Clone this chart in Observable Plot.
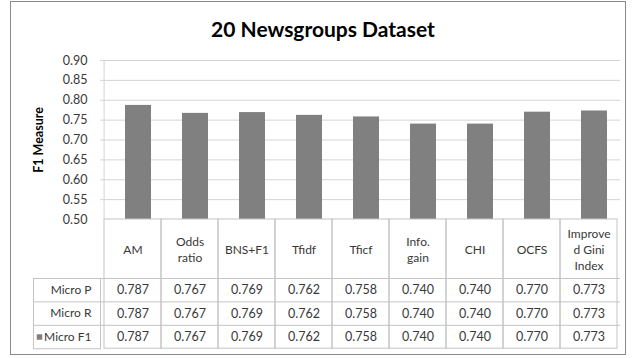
<!DOCTYPE html>
<html><head><meta charset="utf-8">
<script src="https://cdn.jsdelivr.net/npm/d3@7"></script>
<script src="https://cdn.jsdelivr.net/npm/@observablehq/plot@0.6"></script>
<style>body{margin:0;background:#fff;} #chart svg{display:block}</style>
</head><body><div id="chart"></div>
<script>
const title = "20 Newsgroups Dataset";
const yLabel = "F1 Measure";
const categories = ["AM","Odds ratio","BNS+F1","Tfidf","Tficf","Info. gain","CHI","OCFS","Improved Gini Index"];
const headerLabels = ["AM","Odds\nratio","BNS+F1","Tfidf","Tficf","Info.\ngain","CHI","OCFS","Improve\nd Gini\nIndex"];
const rowLabels = ["Micro P","Micro R","Micro F1"];
const microP  = [0.787,0.767,0.769,0.762,0.758,0.740,0.740,0.770,0.773];
const microR  = [0.787,0.767,0.769,0.762,0.758,0.740,0.740,0.770,0.773];
const microF1 = [0.787,0.767,0.769,0.762,0.758,0.740,0.740,0.770,0.773];
const yTicks = [0.50,0.55,0.60,0.65,0.70,0.75,0.80,0.85,0.90];

const W = 635, H = 358, mL = 100, mR = 15, mT = 60, mB = 139;
const frameH = H - mT - mB;
const bw = (W - mL - mR) / categories.length;
const headerH = 59, rowH = 23.4;
const series = [microP, microR, microF1];
const bars = categories.map((c, i) => ({method: c, f1: microF1[i]}));
const font = "Lato, 'Open Sans', sans-serif";
const txt = "#383838";
const lineC = "#c4c4c4";

const marks = [
  Plot.frame({stroke: "#8a8a8a", insetLeft: -90, insetRight: -5, insetTop: -59, insetBottom: -135}),
  Plot.ruleY(yTicks.slice(1), {stroke: "#d4d4d4"}),
  Plot.ruleX([categories[0]], {x: d => d, dx: -bw / 2, stroke: "#d4d4d4"}),
  Plot.barY(bars, {x: "method", y1: yTicks[0], y2: "f1", fill: "#808080", insetLeft: 21, insetRight: 10}),
  Plot.cell(categories, {x: d => d, fill: "none", stroke: lineC, insetTop: frameH, insetBottom: -(headerH + 3 * rowH)}),
  Plot.frame({stroke: lineC, insetLeft: -67, insetRight: W - mL - mR, insetTop: frameH + headerH, insetBottom: -(headerH + 3 * rowH)}),
  ...rowLabels.map((r, i) => Plot.ruleY([yTicks[0]], {stroke: lineC, dy: headerH + i * rowH, insetLeft: -67})),
  Plot.text([title], {text: d => d, frameAnchor: "top", lineAnchor: "middle", dx: -37.5, dy: -30, fontSize: 21, fontWeight: "bold", fill: "#000"}),
  Plot.text([yLabel], {text: d => d, frameAnchor: "left", lineAnchor: "middle", textAnchor: "middle", rotate: -90, dx: -62, fontSize: 12.5, fontWeight: "bold", fill: "#000"}),
  Plot.text(categories, {x: d => d, text: (d, i) => headerLabels[i], frameAnchor: "bottom", lineAnchor: "middle", dy: headerH / 2, lineHeight: 1.35, fontSize: 12, fill: txt}),
  ...series.map((s, r) => Plot.text(categories, {x: d => d, text: (d, i) => s[i].toFixed(3), frameAnchor: "bottom", lineAnchor: "middle", dy: headerH + r * rowH + rowH / 2, fontSize: 12.5, fill: txt})),
  ...rowLabels.map((lab, r) => Plot.text([lab], {text: d => d, frameAnchor: "bottom-left", lineAnchor: "middle", textAnchor: "end", dx: -9, dy: headerH + r * rowH + rowH / 2, fontSize: 12, fill: txt})),
  Plot.dot([rowLabels[2]], {frameAnchor: "bottom-left", dx: -61, dy: headerH + 2 * rowH + rowH / 2, symbol: "square", r: 3.1, fill: "#808080"})
];

const chart = Plot.plot({
  width: W, height: H,
  marginLeft: mL, marginRight: mR, marginTop: mT, marginBottom: mB,
  style: {fontFamily: font, fontSize: "12.5px", color: txt, background: "#fff"},
  x: {type: "band", domain: categories, padding: 0, axis: null},
  y: {domain: [yTicks[0], yTicks[yTicks.length - 1]], ticks: yTicks, tickFormat: d => d.toFixed(2), tickSize: 0, tickPadding: 13, label: null},
  marks
});
document.getElementById("chart").appendChild(chart);
</script>
</body></html>
